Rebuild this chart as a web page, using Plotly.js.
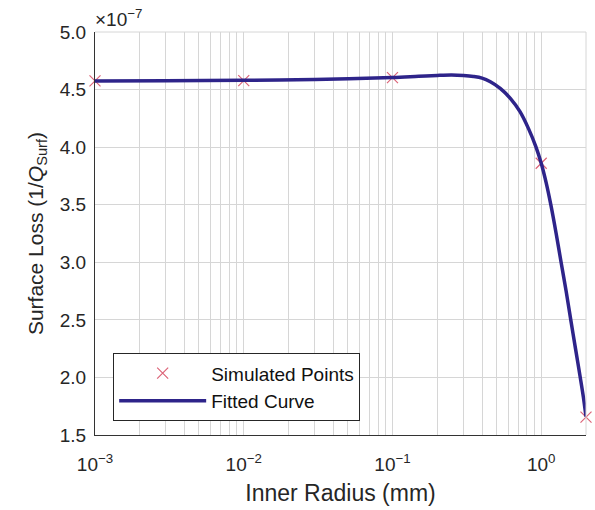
<!DOCTYPE html>
<html>
<head>
<meta charset="utf-8">
<script src="https://cdn.plot.ly/plotly-3.0.1.min.js"></script>
<style>html,body{margin:0;padding:0;background:#fff;}#chart{width:595px;height:510px;}</style>
</head>
<body>
<div id="chart"></div>
<script>
// Simulated points (inner radius in mm, surface loss in units of 1e-7)
var simRadius = [0.001, 0.01, 0.1, 1.0, 2.0];
var simLoss   = [4.575, 4.578, 4.604, 3.86, 1.655];

// Fitted curve
var fitRadius = [0.001, 0.003, 0.01, 0.03, 0.1, 0.15, 0.2, 0.25, 0.3, 0.35, 0.4, 0.455, 0.53, 0.62, 0.72, 0.82, 0.92, 1.0, 1.08, 1.16, 1.26, 1.36, 1.47, 1.58, 1.7, 1.83, 1.92, 2.0];
var fitLoss   = [4.575, 4.577, 4.580, 4.588, 4.605, 4.616, 4.623, 4.626, 4.622, 4.614, 4.600, 4.568, 4.510, 4.424, 4.308, 4.163, 4.005, 3.860, 3.690, 3.500, 3.250, 3.000, 2.750, 2.500, 2.250, 2.000, 1.830, 1.660];

var xTickVals = [0.001, 0.01, 0.1, 1];
var xTickText = ['10<sup>\u22123</sup>', '10<sup>\u22122</sup>', '10<sup>\u22121</sup>', '10<sup>0</sup>'];
var yTickVals = [1.5, 2.0, 2.5, 3.0, 3.5, 4.0, 4.5, 5.0];
var yTickText = ['1.5', '2.0', '2.5', '3.0', '3.5', '4.0', '4.5', '5.0'];

var FONT = 'Liberation Sans, Arial, sans-serif';
var TXT = '#262626';
var GRID = 'rgb(214,214,214)';

var traces = [
  {
    x: simRadius, y: simLoss, type: 'scatter', mode: 'markers',
    name: 'Simulated Points',
    marker: {symbol: 'x-thin', size: 11, color: 'rgb(220,100,120)', line: {color: 'rgb(220,100,120)', width: 1.2}},
    cliponaxis: false
  },
  {
    x: fitRadius, y: fitLoss, type: 'scatter', mode: 'lines',
    name: 'Fitted Curve',
    line: {color: 'rgb(46,36,138)', width: 3.5, shape: 'spline', smoothing: 0.9}
  }
];

var layout = {
  width: 595, height: 510,
  margin: {l: 95, r: 9, t: 32, b: 75},
  paper_bgcolor: '#fff', plot_bgcolor: '#fff',
  font: {family: FONT, size: 18, color: TXT},
  showlegend: true,
  legend: {
    x: 0.037, y: 0.034, xanchor: 'left', yanchor: 'bottom',
    bgcolor: '#fff', bordercolor: TXT, borderwidth: 1,
    font: {family: FONT, size: 19, color: '#111'},
    itemwidth: 87, tracegroupgap: 0
  },
  xaxis: {
    type: 'log', range: [-3, Math.log10(2)],
    tickmode: 'array', tickvals: xTickVals, ticktext: xTickText,
    showgrid: true, gridcolor: GRID, gridwidth: 1,
    minor: {tickmode: 'linear', dtick: 'D1', showgrid: true, gridcolor: GRID, gridwidth: 1, ticks: ''},
    showline: true, linecolor: '#333', linewidth: 1, mirror: false,
    ticks: '', ticklabelstandoff: 12,
    zeroline: false,
    tickfont: {family: FONT, size: 19, color: TXT},
    title: {text: 'Inner Radius (mm)', font: {family: FONT, size: 23, color: TXT}, standoff: 11}
  },
  yaxis: {
    range: [1.5, 5.0],
    tickvals: yTickVals, ticktext: yTickText,
    showgrid: true, gridcolor: GRID, gridwidth: 1,
    showline: true, linecolor: '#333', linewidth: 1, mirror: false,
    ticks: '', ticklabelstandoff: 4,
    zeroline: false,
    tickfont: {family: FONT, size: 19, color: TXT},
    title: {text: 'Surface Loss (1/<i>Q</i><sub>Surf</sub>)', font: {family: FONT, size: 21, color: TXT}, standoff: 10}
  },
  shapes: [
    {type: 'line', xref: 'paper', yref: 'paper', x0: 1, x1: 1, y0: 0, y1: 1, line: {color: GRID, width: 1}},
    {type: 'line', xref: 'paper', yref: 'paper', x0: 0, x1: 1, y0: 1, y1: 1, line: {color: GRID, width: 1}}
  ],
  annotations: [
    {xref: 'paper', yref: 'paper', x: 0, y: 1, xanchor: 'left', yanchor: 'bottom', showarrow: false,
     text: '\u00d710<sup>\u22127</sup>', font: {family: FONT, size: 19, color: TXT}, xshift: -2, yshift: 0}
  ]
};

Plotly.newPlot('chart', traces, layout, {displayModeBar: false, staticPlot: true});
</script>
</body>
</html>
